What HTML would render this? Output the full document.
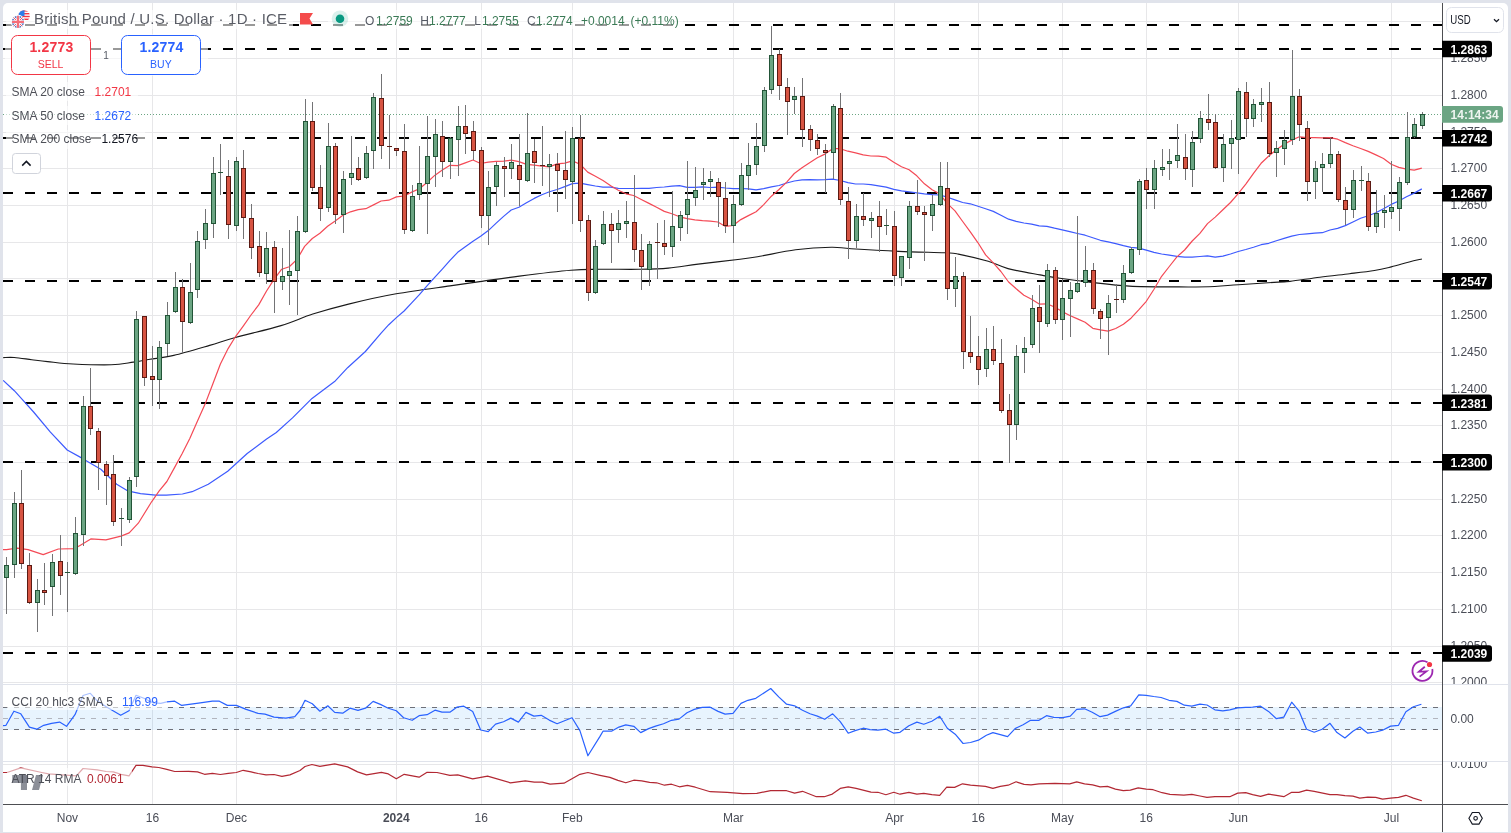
<!DOCTYPE html>
<html><head><meta charset="utf-8"><style>
html,body{margin:0;padding:0}
body{width:1511px;height:833px;overflow:hidden;background:#e0e3eb;position:relative;font-family:"Liberation Sans",sans-serif}
svg{position:absolute;left:0;top:0;font-family:"Liberation Sans",sans-serif;will-change:transform}
</style></head><body>
<svg width="1511" height="833" viewBox="0 0 1511 833">
<defs><clipPath id="main"><rect x="3" y="3" width="1439" height="681"/></clipPath>
<clipPath id="cci"><rect x="3" y="685" width="1439" height="76"/></clipPath>
<clipPath id="atr"><rect x="3" y="762" width="1439" height="42"/></clipPath>
<clipPath id="pax"><rect x="1443" y="3" width="65" height="681"/></clipPath>
<clipPath id="paxcci"><rect x="1443" y="685" width="65" height="76"/></clipPath>
<clipPath id="paxatr"><rect x="1443" y="762" width="65" height="42"/></clipPath>
</defs>
<path d="M8 3 h1495 a5 5 0 0 1 5 5 v824 h-1505 v-824 a5 5 0 0 1 5 -5 z" fill="#ffffff"/>
<rect x="67" y="3" width="1" height="801" fill="#e7e7e9"/>
<rect x="152" y="3" width="1" height="801" fill="#e7e7e9"/>
<rect x="236" y="3" width="1" height="801" fill="#e7e7e9"/>
<rect x="396" y="3" width="1" height="801" fill="#e7e7e9"/>
<rect x="481" y="3" width="1" height="801" fill="#e7e7e9"/>
<rect x="572" y="3" width="1" height="801" fill="#e7e7e9"/>
<rect x="733" y="3" width="1" height="801" fill="#e7e7e9"/>
<rect x="894" y="3" width="1" height="801" fill="#e7e7e9"/>
<rect x="978" y="3" width="1" height="801" fill="#e7e7e9"/>
<rect x="1062" y="3" width="1" height="801" fill="#e7e7e9"/>
<rect x="1146" y="3" width="1" height="801" fill="#e7e7e9"/>
<rect x="1238" y="3" width="1" height="801" fill="#e7e7e9"/>
<rect x="1391" y="3" width="1" height="801" fill="#e7e7e9"/>
<rect x="3" y="682" width="1439" height="1" fill="#e7e7e9"/>
<rect x="3" y="646" width="1439" height="1" fill="#e7e7e9"/>
<rect x="3" y="609" width="1439" height="1" fill="#e7e7e9"/>
<rect x="3" y="572" width="1439" height="1" fill="#e7e7e9"/>
<rect x="3" y="535" width="1439" height="1" fill="#e7e7e9"/>
<rect x="3" y="499" width="1439" height="1" fill="#e7e7e9"/>
<rect x="3" y="462" width="1439" height="1" fill="#e7e7e9"/>
<rect x="3" y="425" width="1439" height="1" fill="#e7e7e9"/>
<rect x="3" y="389" width="1439" height="1" fill="#e7e7e9"/>
<rect x="3" y="352" width="1439" height="1" fill="#e7e7e9"/>
<rect x="3" y="315" width="1439" height="1" fill="#e7e7e9"/>
<rect x="3" y="278" width="1439" height="1" fill="#e7e7e9"/>
<rect x="3" y="242" width="1439" height="1" fill="#e7e7e9"/>
<rect x="3" y="205" width="1439" height="1" fill="#e7e7e9"/>
<rect x="3" y="168" width="1439" height="1" fill="#e7e7e9"/>
<rect x="3" y="132" width="1439" height="1" fill="#e7e7e9"/>
<rect x="3" y="95" width="1439" height="1" fill="#e7e7e9"/>
<rect x="3" y="58" width="1439" height="1" fill="#e7e7e9"/>
<rect x="3" y="21" width="1439" height="1" fill="#e7e7e9"/>
<rect x="3" y="764" width="1439" height="1" fill="#e7e7e9"/>
<rect x="3" y="684" width="1505" height="1" fill="#e0e3eb"/>
<rect x="3" y="761" width="1505" height="1" fill="#e0e3eb"/>
<rect x="3" y="707" width="1439" height="23" fill="#2196f3" fill-opacity="0.1"/>
<line x1="3" y1="707.5" x2="1442" y2="707.5" stroke="#6e7079" stroke-width="1" stroke-dasharray="5 6"/>
<line x1="3" y1="718.5" x2="1442" y2="718.5" stroke="#b2b5be" stroke-width="1" stroke-dasharray="5 6"/>
<line x1="3" y1="729.5" x2="1442" y2="729.5" stroke="#6e7079" stroke-width="1" stroke-dasharray="5 6"/>
<g clip-path="url(#main)">
<line x1="3" y1="25" x2="1442" y2="25" stroke="#000" stroke-width="2" stroke-dasharray="10 12"/>
<line x1="3" y1="49" x2="1442" y2="49" stroke="#000" stroke-width="2" stroke-dasharray="10 12"/>
<line x1="3" y1="138" x2="1442" y2="138" stroke="#000" stroke-width="2" stroke-dasharray="10 12"/>
<line x1="3" y1="193" x2="1442" y2="193" stroke="#000" stroke-width="2" stroke-dasharray="10 12"/>
<line x1="3" y1="281" x2="1442" y2="281" stroke="#000" stroke-width="2" stroke-dasharray="10 12"/>
<line x1="3" y1="403" x2="1442" y2="403" stroke="#000" stroke-width="2" stroke-dasharray="10 12"/>
<line x1="3" y1="462" x2="1442" y2="462" stroke="#000" stroke-width="2" stroke-dasharray="10 12"/>
<line x1="3" y1="653" x2="1442" y2="653" stroke="#000" stroke-width="2" stroke-dasharray="10 12"/>
<path d="M3.2,357.6 C5.1,357.6 9.5,357.1 14.3,357.5 C19.1,357.9 26.2,359.0 31.8,359.7 C37.4,360.4 40.7,360.9 47.6,361.6 C54.5,362.3 62.5,363.5 73.1,364.0 C83.7,364.5 101.2,365.1 111.2,364.8 C121.2,364.5 126.9,363.0 133.4,362.1 C139.9,361.2 143.3,360.4 150.0,359.3 C156.7,358.2 163.9,357.7 173.8,355.4 C183.7,353.1 199.3,348.4 209.6,345.4 C219.9,342.4 223.5,340.8 235.4,337.5 C247.3,334.2 268.1,329.5 281.0,325.6 C293.9,321.7 301.6,317.7 312.8,314.1 C324.1,310.5 334.6,307.5 348.5,304.1 C362.4,300.7 379.3,296.8 396.2,293.8 C413.1,290.8 436.1,287.9 450.0,285.9 C463.9,283.9 468.1,283.2 479.7,281.6 C491.3,280.0 504.2,278.0 519.4,276.1 C534.6,274.2 557.8,271.4 571.0,270.3 C584.2,269.2 587.5,269.5 598.8,269.3 C610.0,269.1 626.9,269.5 638.5,269.3 C650.1,269.1 658.4,269.0 668.3,268.1 C678.2,267.2 686.1,265.6 698.1,264.1 C710.1,262.6 729.7,260.6 740.0,259.3 C750.3,258.0 750.6,257.9 759.9,256.3 C769.2,254.7 783.7,251.3 795.6,249.8 C807.5,248.3 822.0,247.4 831.3,247.2 C840.6,247.0 840.0,248.1 851.2,248.8 C862.5,249.5 883.2,250.7 898.8,251.4 C914.3,252.1 934.6,252.4 944.5,252.8 C954.4,253.2 951.1,252.7 958.4,254.1 C965.7,255.5 979.9,258.9 988.2,261.3 C996.5,263.7 999.4,266.3 1008.0,268.6 C1016.6,270.9 1031.3,273.3 1040.0,274.9 C1048.7,276.5 1051.6,277.1 1059.9,278.3 C1068.2,279.5 1078.0,280.8 1089.6,282.1 C1101.2,283.4 1114.4,285.3 1129.3,286.1 C1144.2,286.9 1164.8,286.8 1179.0,286.9 C1193.2,287.0 1204.8,286.9 1214.7,286.5 C1224.6,286.1 1227.9,285.4 1238.5,284.7 C1249.1,284.0 1269.6,282.7 1278.2,282.1 C1286.8,281.6 1283.1,282.2 1290.0,281.4 C1296.9,280.6 1309.9,278.5 1319.8,277.2 C1329.7,275.9 1340.5,274.8 1349.6,273.7 C1358.7,272.6 1367.5,271.6 1374.4,270.5 C1381.4,269.4 1385.5,268.3 1391.3,266.9 C1397.1,265.5 1404.1,263.3 1409.2,262.0 C1414.3,260.7 1419.8,259.5 1421.9,259.0" fill="none" stroke="#1a1a1a" stroke-width="1.1"/>
<polyline points="3.2,380.4 14.3,390.7 22.2,399.4 33.6,412.0 50.4,432.2 67.2,450.0 80.6,457.4 100.8,469.2 116.7,484.3 127.5,490.8 140.5,493.6 155.6,495.1 166.4,495.2 182.4,494.0 192.1,491.7 208.3,484.3 227.7,471.3 247.2,453.5 266.6,438.9 276.3,432.5 292.5,417.9 312.0,398.4 334.6,381.6 347.6,367.7 365.4,351.5 381.1,333.1 388.8,324.7 396.4,317.6 404.1,311.0 411.7,302.8 419.4,294.7 427.0,285.9 434.7,277.4 442.3,269.1 450.0,260.4 457.7,252.3 465.3,246.8 473.0,241.3 480.6,236.3 488.3,230.6 495.9,223.4 503.6,216.4 511.2,210.0 518.9,207.3 526.5,202.8 534.2,198.4 541.8,194.8 549.5,191.8 557.1,189.5 564.8,186.6 572.4,183.6 580.1,183.2 587.7,184.6 595.4,186.0 603.0,187.1 610.7,187.2 618.3,188.4 626.0,188.5 633.6,188.5 641.3,188.4 649.0,188.3 656.6,187.5 664.3,187.0 671.9,186.1 679.6,185.7 687.2,187.3 694.9,187.3 702.5,186.8 710.2,187.5 717.8,187.1 725.5,188.0 733.1,188.6 740.8,188.5 748.4,188.8 756.1,189.8 763.7,188.6 771.4,186.8 779.0,185.5 786.7,183.0 794.3,181.0 802.0,179.9 809.6,179.6 817.3,179.9 824.9,179.7 832.6,179.1 840.3,180.5 847.9,182.7 855.6,184.0 863.2,184.0 870.9,184.7 878.5,185.9 886.2,187.1 893.8,189.3 901.5,190.9 909.1,191.9 916.8,192.9 924.4,193.9 932.1,194.7 939.7,195.0 947.4,197.2 955.0,199.9 962.7,202.5 970.3,203.8 978.0,206.3 985.6,208.8 993.3,211.4 1000.9,215.2 1008.6,219.2 1016.2,221.4 1023.9,223.0 1031.6,224.2 1039.2,225.8 1046.9,226.3 1054.5,228.2 1062.2,229.8 1069.8,231.6 1077.5,233.5 1085.1,235.2 1092.8,237.8 1100.4,240.3 1108.1,241.8 1115.7,243.7 1123.4,245.7 1131.0,247.4 1138.7,248.1 1146.3,250.1 1154.0,252.3 1161.6,254.0 1169.3,255.1 1176.9,256.3 1184.6,257.1 1192.2,257.2 1199.9,256.5 1207.5,255.9 1215.2,257.2 1222.9,256.1 1230.5,254.0 1238.2,251.5 1245.8,249.5 1253.5,247.2 1261.1,244.7 1268.8,243.3 1276.4,240.7 1284.1,238.4 1291.7,236.2 1299.4,234.5 1307.0,233.8 1314.7,233.1 1322.3,232.7 1330.0,230.0 1337.6,228.4 1345.3,225.6 1352.9,222.0 1360.6,218.2 1368.2,215.8 1375.9,212.8 1383.5,208.8 1391.2,204.4 1398.8,201.0 1406.5,196.8 1414.2,193.1 1421.8,188.9" fill="none" stroke="#3d5afe" stroke-width="1.2" stroke-linejoin="round" />
<polyline points="3.0,549.6 6.5,549.6 17.3,548.1 28.1,549.6 43.2,554.6 58.3,549.0 74.5,548.6 80.0,545.4 90.8,538.9 105.9,539.8 121.0,536.1 129.2,532.9 138.3,523.2 151.6,501.8 159.2,490.9 166.9,481.5 174.5,467.6 182.2,453.5 189.8,438.6 197.5,421.0 205.1,404.1 212.8,384.0 220.4,364.0 228.1,348.6 235.7,336.3 243.4,325.8 251.0,315.0 258.7,304.9 266.4,291.2 274.0,279.4 281.7,269.2 289.3,266.7 297.0,259.4 304.6,246.4 312.3,238.5 319.9,233.2 327.6,226.2 335.2,220.9 342.9,215.2 350.5,211.8 358.2,209.7 365.8,208.7 373.5,204.9 381.1,201.0 388.8,200.2 396.4,196.9 404.1,196.0 411.7,192.1 419.4,188.8 427.0,182.5 434.7,175.4 442.3,170.0 450.0,165.3 457.7,165.6 465.3,162.9 473.0,160.0 480.6,163.5 488.3,162.1 495.9,161.4 503.6,161.1 511.2,160.2 518.9,161.6 526.5,164.4 534.2,165.2 541.8,166.2 549.5,166.9 557.1,163.9 564.8,163.1 572.4,160.9 580.1,164.2 587.7,172.1 595.4,176.3 603.0,180.6 610.7,185.8 618.3,190.3 626.0,193.8 633.6,195.5 641.3,199.5 649.0,203.4 656.6,207.2 664.3,211.4 671.9,213.7 679.6,216.8 687.2,218.6 694.9,219.8 702.5,220.7 710.2,221.1 717.8,222.0 725.5,226.4 733.1,225.5 740.8,219.6 748.4,215.6 756.1,211.7 763.7,204.6 771.4,196.2 779.0,189.5 786.7,182.1 794.3,173.5 802.0,167.8 809.6,162.7 817.3,157.8 824.9,154.1 832.6,148.7 840.3,148.7 847.9,151.2 855.6,152.9 863.2,154.9 870.9,156.0 878.5,156.1 886.2,157.2 893.8,162.2 901.5,166.8 909.1,169.7 916.8,175.8 924.4,183.8 932.1,189.7 939.7,193.9 947.4,203.6 955.0,210.9 962.7,221.5 970.3,231.9 978.0,242.8 985.6,254.9 993.3,262.9 1000.9,271.5 1008.6,282.0 1016.2,288.8 1023.9,295.2 1031.6,299.3 1039.2,304.1 1046.9,303.8 1054.5,307.0 1062.2,311.6 1069.8,315.5 1077.5,318.9 1085.1,322.2 1092.8,328.3 1100.4,329.8 1108.1,331.1 1115.7,328.5 1123.4,324.3 1131.0,318.2 1138.7,309.9 1146.3,301.3 1154.0,289.2 1161.6,276.3 1169.3,266.5 1176.9,256.9 1184.6,250.0 1192.2,241.0 1199.9,233.4 1207.5,223.6 1215.2,217.1 1222.9,209.8 1230.5,202.5 1238.2,193.6 1245.8,184.1 1253.5,173.3 1261.1,163.3 1268.8,156.0 1276.4,149.8 1284.1,144.3 1291.7,140.1 1299.4,136.8 1307.0,137.6 1314.7,137.6 1322.3,137.8 1330.0,137.7 1337.6,139.2 1345.3,142.6 1352.9,145.7 1360.6,148.5 1368.2,151.4 1375.9,154.9 1383.5,158.5 1391.2,164.3 1398.8,167.4 1406.5,169.1 1414.2,170.2 1421.8,168.2" fill="none" stroke="#f44a56" stroke-width="1.2" stroke-linejoin="round" />
<line x1="3" y1="114.5" x2="1442" y2="114.5" stroke="#6ba583" stroke-width="1" stroke-dasharray="1 2"/>
<rect x="6" y="557" width="1" height="57" fill="#737375"/>
<rect x="4.5" y="565.5" width="4" height="12" fill="#6ba583" stroke="#225437" stroke-width="1"/>
<rect x="14" y="492" width="1" height="86" fill="#737375"/>
<rect x="12.5" y="503.5" width="4" height="61" fill="#6ba583" stroke="#225437" stroke-width="1"/>
<rect x="21" y="470" width="1" height="99" fill="#737375"/>
<rect x="19.5" y="503.5" width="4" height="60" fill="#d75442" stroke="#5b1a13" stroke-width="1"/>
<rect x="29" y="553" width="1" height="51" fill="#737375"/>
<rect x="27.5" y="565.5" width="4" height="37" fill="#d75442" stroke="#5b1a13" stroke-width="1"/>
<rect x="37" y="579" width="1" height="53" fill="#737375"/>
<rect x="35.5" y="590.5" width="4" height="12" fill="#6ba583" stroke="#225437" stroke-width="1"/>
<rect x="44" y="563" width="1" height="42" fill="#737375"/>
<rect x="42.5" y="590.5" width="4" height="2" fill="#d75442" stroke="#5b1a13" stroke-width="1"/>
<rect x="52" y="554" width="1" height="62" fill="#737375"/>
<rect x="50.5" y="562.5" width="4" height="24" fill="#6ba583" stroke="#225437" stroke-width="1"/>
<rect x="60" y="535" width="1" height="60" fill="#737375"/>
<rect x="58.5" y="561.5" width="4" height="14" fill="#d75442" stroke="#5b1a13" stroke-width="1"/>
<rect x="67" y="562" width="1" height="50" fill="#737375"/>
<rect x="65" y="572" width="5" height="1" fill="#225437"/>
<rect x="75" y="517" width="1" height="58" fill="#737375"/>
<rect x="73.5" y="533.5" width="4" height="40" fill="#6ba583" stroke="#225437" stroke-width="1"/>
<rect x="83" y="396" width="1" height="150" fill="#737375"/>
<rect x="81.5" y="406.5" width="4" height="128" fill="#6ba583" stroke="#225437" stroke-width="1"/>
<rect x="90" y="368" width="1" height="67" fill="#737375"/>
<rect x="88.5" y="406.5" width="4" height="22" fill="#d75442" stroke="#5b1a13" stroke-width="1"/>
<rect x="98" y="428" width="1" height="62" fill="#737375"/>
<rect x="96.5" y="431.5" width="4" height="31" fill="#d75442" stroke="#5b1a13" stroke-width="1"/>
<rect x="106" y="461" width="1" height="44" fill="#737375"/>
<rect x="104.5" y="464.5" width="4" height="11" fill="#d75442" stroke="#5b1a13" stroke-width="1"/>
<rect x="113" y="455" width="1" height="71" fill="#737375"/>
<rect x="111.5" y="474.5" width="4" height="47" fill="#d75442" stroke="#5b1a13" stroke-width="1"/>
<rect x="121" y="508" width="1" height="38" fill="#737375"/>
<rect x="119" y="518" width="5" height="1" fill="#225437"/>
<rect x="129" y="477" width="1" height="46" fill="#737375"/>
<rect x="127.5" y="480.5" width="4" height="39" fill="#6ba583" stroke="#225437" stroke-width="1"/>
<rect x="136" y="311" width="1" height="176" fill="#737375"/>
<rect x="134.5" y="319.5" width="4" height="157" fill="#6ba583" stroke="#225437" stroke-width="1"/>
<rect x="144" y="316" width="1" height="70" fill="#737375"/>
<rect x="142.5" y="316.5" width="4" height="61" fill="#d75442" stroke="#5b1a13" stroke-width="1"/>
<rect x="152" y="346" width="1" height="60" fill="#737375"/>
<rect x="150.5" y="376.5" width="4" height="3" fill="#d75442" stroke="#5b1a13" stroke-width="1"/>
<rect x="159" y="341" width="1" height="68" fill="#737375"/>
<rect x="157.5" y="347.5" width="4" height="32" fill="#6ba583" stroke="#225437" stroke-width="1"/>
<rect x="167" y="302" width="1" height="54" fill="#737375"/>
<rect x="165.5" y="315.5" width="4" height="28" fill="#6ba583" stroke="#225437" stroke-width="1"/>
<rect x="175" y="272" width="1" height="41" fill="#737375"/>
<rect x="173.5" y="287.5" width="4" height="24" fill="#6ba583" stroke="#225437" stroke-width="1"/>
<rect x="182" y="279" width="1" height="74" fill="#737375"/>
<rect x="180.5" y="287.5" width="4" height="34" fill="#d75442" stroke="#5b1a13" stroke-width="1"/>
<rect x="190" y="263" width="1" height="61" fill="#737375"/>
<rect x="188.5" y="292.5" width="4" height="30" fill="#6ba583" stroke="#225437" stroke-width="1"/>
<rect x="197" y="231" width="1" height="67" fill="#737375"/>
<rect x="195.5" y="241.5" width="4" height="48" fill="#6ba583" stroke="#225437" stroke-width="1"/>
<rect x="205" y="209" width="1" height="40" fill="#737375"/>
<rect x="203.5" y="223.5" width="4" height="16" fill="#6ba583" stroke="#225437" stroke-width="1"/>
<rect x="213" y="157" width="1" height="81" fill="#737375"/>
<rect x="211.5" y="173.5" width="4" height="50" fill="#6ba583" stroke="#225437" stroke-width="1"/>
<rect x="220" y="144" width="1" height="51" fill="#737375"/>
<rect x="218" y="172" width="5" height="1" fill="#225437"/>
<rect x="228" y="160" width="1" height="79" fill="#737375"/>
<rect x="226.5" y="176.5" width="4" height="48" fill="#d75442" stroke="#5b1a13" stroke-width="1"/>
<rect x="236" y="157" width="1" height="74" fill="#737375"/>
<rect x="234.5" y="161.5" width="4" height="64" fill="#6ba583" stroke="#225437" stroke-width="1"/>
<rect x="243" y="150" width="1" height="89" fill="#737375"/>
<rect x="241.5" y="168.5" width="4" height="49" fill="#d75442" stroke="#5b1a13" stroke-width="1"/>
<rect x="251" y="204" width="1" height="55" fill="#737375"/>
<rect x="249.5" y="218.5" width="4" height="29" fill="#d75442" stroke="#5b1a13" stroke-width="1"/>
<rect x="259" y="231" width="1" height="46" fill="#737375"/>
<rect x="257.5" y="246.5" width="4" height="26" fill="#d75442" stroke="#5b1a13" stroke-width="1"/>
<rect x="266" y="232" width="1" height="52" fill="#737375"/>
<rect x="264.5" y="248.5" width="4" height="25" fill="#6ba583" stroke="#225437" stroke-width="1"/>
<rect x="274" y="241" width="1" height="72" fill="#737375"/>
<rect x="272.5" y="247.5" width="4" height="34" fill="#d75442" stroke="#5b1a13" stroke-width="1"/>
<rect x="282" y="248" width="1" height="42" fill="#737375"/>
<rect x="280.5" y="276.5" width="4" height="5" fill="#6ba583" stroke="#225437" stroke-width="1"/>
<rect x="289" y="230" width="1" height="75" fill="#737375"/>
<rect x="287.5" y="271.5" width="4" height="4" fill="#6ba583" stroke="#225437" stroke-width="1"/>
<rect x="297" y="216" width="1" height="99" fill="#737375"/>
<rect x="295.5" y="231.5" width="4" height="39" fill="#6ba583" stroke="#225437" stroke-width="1"/>
<rect x="305" y="99" width="1" height="134" fill="#737375"/>
<rect x="303.5" y="121.5" width="4" height="110" fill="#6ba583" stroke="#225437" stroke-width="1"/>
<rect x="312" y="102" width="1" height="89" fill="#737375"/>
<rect x="310.5" y="121.5" width="4" height="66" fill="#d75442" stroke="#5b1a13" stroke-width="1"/>
<rect x="320" y="165" width="1" height="56" fill="#737375"/>
<rect x="318.5" y="187.5" width="4" height="21" fill="#d75442" stroke="#5b1a13" stroke-width="1"/>
<rect x="328" y="123" width="1" height="89" fill="#737375"/>
<rect x="326.5" y="146.5" width="4" height="61" fill="#6ba583" stroke="#225437" stroke-width="1"/>
<rect x="335" y="143" width="1" height="81" fill="#737375"/>
<rect x="333.5" y="146.5" width="4" height="68" fill="#d75442" stroke="#5b1a13" stroke-width="1"/>
<rect x="343" y="171" width="1" height="62" fill="#737375"/>
<rect x="341.5" y="179.5" width="4" height="35" fill="#6ba583" stroke="#225437" stroke-width="1"/>
<rect x="351" y="136" width="1" height="49" fill="#737375"/>
<rect x="349.5" y="173.5" width="4" height="4" fill="#6ba583" stroke="#225437" stroke-width="1"/>
<rect x="358" y="157" width="1" height="24" fill="#737375"/>
<rect x="356.5" y="168.5" width="4" height="11" fill="#d75442" stroke="#5b1a13" stroke-width="1"/>
<rect x="366" y="146" width="1" height="33" fill="#737375"/>
<rect x="364.5" y="153.5" width="4" height="24" fill="#6ba583" stroke="#225437" stroke-width="1"/>
<rect x="373" y="93" width="1" height="76" fill="#737375"/>
<rect x="371.5" y="97.5" width="4" height="53" fill="#6ba583" stroke="#225437" stroke-width="1"/>
<rect x="381" y="74" width="1" height="85" fill="#737375"/>
<rect x="379.5" y="98.5" width="4" height="47" fill="#d75442" stroke="#5b1a13" stroke-width="1"/>
<rect x="389" y="115" width="1" height="54" fill="#737375"/>
<rect x="387" y="146" width="5" height="1" fill="#5b1a13"/>
<rect x="396" y="148" width="1" height="8" fill="#737375"/>
<rect x="394.5" y="148.5" width="4" height="2" fill="#d75442" stroke="#5b1a13" stroke-width="1"/>
<rect x="404" y="124" width="1" height="110" fill="#737375"/>
<rect x="402.5" y="151.5" width="4" height="78" fill="#d75442" stroke="#5b1a13" stroke-width="1"/>
<rect x="412" y="185" width="1" height="47" fill="#737375"/>
<rect x="410.5" y="196.5" width="4" height="34" fill="#6ba583" stroke="#225437" stroke-width="1"/>
<rect x="419" y="146" width="1" height="54" fill="#737375"/>
<rect x="417.5" y="183.5" width="4" height="11" fill="#6ba583" stroke="#225437" stroke-width="1"/>
<rect x="427" y="116" width="1" height="118" fill="#737375"/>
<rect x="425.5" y="156.5" width="4" height="27" fill="#6ba583" stroke="#225437" stroke-width="1"/>
<rect x="435" y="119" width="1" height="68" fill="#737375"/>
<rect x="433.5" y="134.5" width="4" height="22" fill="#6ba583" stroke="#225437" stroke-width="1"/>
<rect x="442" y="121" width="1" height="56" fill="#737375"/>
<rect x="440.5" y="136.5" width="4" height="25" fill="#d75442" stroke="#5b1a13" stroke-width="1"/>
<rect x="450" y="137" width="1" height="42" fill="#737375"/>
<rect x="448.5" y="138.5" width="4" height="23" fill="#6ba583" stroke="#225437" stroke-width="1"/>
<rect x="458" y="106" width="1" height="70" fill="#737375"/>
<rect x="456.5" y="126.5" width="4" height="13" fill="#6ba583" stroke="#225437" stroke-width="1"/>
<rect x="465" y="105" width="1" height="49" fill="#737375"/>
<rect x="463.5" y="126.5" width="4" height="7" fill="#d75442" stroke="#5b1a13" stroke-width="1"/>
<rect x="473" y="121" width="1" height="39" fill="#737375"/>
<rect x="471.5" y="131.5" width="4" height="19" fill="#d75442" stroke="#5b1a13" stroke-width="1"/>
<rect x="481" y="147" width="1" height="81" fill="#737375"/>
<rect x="479.5" y="150.5" width="4" height="65" fill="#d75442" stroke="#5b1a13" stroke-width="1"/>
<rect x="488" y="171" width="1" height="74" fill="#737375"/>
<rect x="486.5" y="187.5" width="4" height="28" fill="#6ba583" stroke="#225437" stroke-width="1"/>
<rect x="496" y="162" width="1" height="44" fill="#737375"/>
<rect x="494.5" y="165.5" width="4" height="21" fill="#6ba583" stroke="#225437" stroke-width="1"/>
<rect x="504" y="157" width="1" height="40" fill="#737375"/>
<rect x="502.5" y="166.5" width="4" height="2" fill="#d75442" stroke="#5b1a13" stroke-width="1"/>
<rect x="511" y="144" width="1" height="35" fill="#737375"/>
<rect x="509.5" y="162.5" width="4" height="6" fill="#6ba583" stroke="#225437" stroke-width="1"/>
<rect x="519" y="134" width="1" height="72" fill="#737375"/>
<rect x="517.5" y="165.5" width="4" height="14" fill="#d75442" stroke="#5b1a13" stroke-width="1"/>
<rect x="527" y="113" width="1" height="69" fill="#737375"/>
<rect x="525.5" y="153.5" width="4" height="27" fill="#6ba583" stroke="#225437" stroke-width="1"/>
<rect x="534" y="139" width="1" height="44" fill="#737375"/>
<rect x="532.5" y="151.5" width="4" height="11" fill="#d75442" stroke="#5b1a13" stroke-width="1"/>
<rect x="542" y="126" width="1" height="60" fill="#737375"/>
<rect x="540" y="165" width="5" height="1" fill="#5b1a13"/>
<rect x="549" y="154" width="1" height="43" fill="#737375"/>
<rect x="547.5" y="164.5" width="4" height="2" fill="#6ba583" stroke="#225437" stroke-width="1"/>
<rect x="557" y="153" width="1" height="59" fill="#737375"/>
<rect x="555.5" y="164.5" width="4" height="6" fill="#d75442" stroke="#5b1a13" stroke-width="1"/>
<rect x="565" y="131" width="1" height="68" fill="#737375"/>
<rect x="563.5" y="170.5" width="4" height="9" fill="#d75442" stroke="#5b1a13" stroke-width="1"/>
<rect x="572" y="127" width="1" height="97" fill="#737375"/>
<rect x="570.5" y="138.5" width="4" height="43" fill="#6ba583" stroke="#225437" stroke-width="1"/>
<rect x="580" y="115" width="1" height="117" fill="#737375"/>
<rect x="578.5" y="138.5" width="4" height="82" fill="#d75442" stroke="#5b1a13" stroke-width="1"/>
<rect x="588" y="215" width="1" height="86" fill="#737375"/>
<rect x="586.5" y="220.5" width="4" height="72" fill="#d75442" stroke="#5b1a13" stroke-width="1"/>
<rect x="595" y="240" width="1" height="54" fill="#737375"/>
<rect x="593.5" y="246.5" width="4" height="46" fill="#6ba583" stroke="#225437" stroke-width="1"/>
<rect x="603" y="211" width="1" height="34" fill="#737375"/>
<rect x="601.5" y="224.5" width="4" height="19" fill="#6ba583" stroke="#225437" stroke-width="1"/>
<rect x="611" y="213" width="1" height="50" fill="#737375"/>
<rect x="609.5" y="224.5" width="4" height="6" fill="#d75442" stroke="#5b1a13" stroke-width="1"/>
<rect x="618" y="210" width="1" height="33" fill="#737375"/>
<rect x="616.5" y="223.5" width="4" height="6" fill="#6ba583" stroke="#225437" stroke-width="1"/>
<rect x="626" y="201" width="1" height="37" fill="#737375"/>
<rect x="624.5" y="221.5" width="4" height="2" fill="#6ba583" stroke="#225437" stroke-width="1"/>
<rect x="634" y="175" width="1" height="87" fill="#737375"/>
<rect x="632.5" y="222.5" width="4" height="27" fill="#d75442" stroke="#5b1a13" stroke-width="1"/>
<rect x="641" y="234" width="1" height="56" fill="#737375"/>
<rect x="639.5" y="250.5" width="4" height="16" fill="#d75442" stroke="#5b1a13" stroke-width="1"/>
<rect x="649" y="241" width="1" height="45" fill="#737375"/>
<rect x="647.5" y="244.5" width="4" height="25" fill="#6ba583" stroke="#225437" stroke-width="1"/>
<rect x="657" y="223" width="1" height="56" fill="#737375"/>
<rect x="655" y="242" width="5" height="1" fill="#5b1a13"/>
<rect x="664" y="220" width="1" height="35" fill="#737375"/>
<rect x="662.5" y="243.5" width="4" height="3" fill="#d75442" stroke="#5b1a13" stroke-width="1"/>
<rect x="672" y="191" width="1" height="66" fill="#737375"/>
<rect x="670.5" y="226.5" width="4" height="20" fill="#6ba583" stroke="#225437" stroke-width="1"/>
<rect x="680" y="211" width="1" height="30" fill="#737375"/>
<rect x="678.5" y="215.5" width="4" height="12" fill="#6ba583" stroke="#225437" stroke-width="1"/>
<rect x="687" y="161" width="1" height="73" fill="#737375"/>
<rect x="685.5" y="199.5" width="4" height="15" fill="#6ba583" stroke="#225437" stroke-width="1"/>
<rect x="695" y="167" width="1" height="39" fill="#737375"/>
<rect x="693.5" y="190.5" width="4" height="7" fill="#6ba583" stroke="#225437" stroke-width="1"/>
<rect x="703" y="168" width="1" height="32" fill="#737375"/>
<rect x="701.5" y="182.5" width="4" height="2" fill="#6ba583" stroke="#225437" stroke-width="1"/>
<rect x="710" y="171" width="1" height="26" fill="#737375"/>
<rect x="708.5" y="179.5" width="4" height="2" fill="#6ba583" stroke="#225437" stroke-width="1"/>
<rect x="718" y="178" width="1" height="49" fill="#737375"/>
<rect x="716.5" y="182.5" width="4" height="14" fill="#d75442" stroke="#5b1a13" stroke-width="1"/>
<rect x="725" y="182" width="1" height="51" fill="#737375"/>
<rect x="723.5" y="198.5" width="4" height="27" fill="#d75442" stroke="#5b1a13" stroke-width="1"/>
<rect x="733" y="195" width="1" height="48" fill="#737375"/>
<rect x="731.5" y="204.5" width="4" height="21" fill="#6ba583" stroke="#225437" stroke-width="1"/>
<rect x="741" y="163" width="1" height="43" fill="#737375"/>
<rect x="739.5" y="175.5" width="4" height="29" fill="#6ba583" stroke="#225437" stroke-width="1"/>
<rect x="748" y="143" width="1" height="47" fill="#737375"/>
<rect x="746.5" y="165.5" width="4" height="10" fill="#6ba583" stroke="#225437" stroke-width="1"/>
<rect x="756" y="123" width="1" height="52" fill="#737375"/>
<rect x="754.5" y="146.5" width="4" height="18" fill="#6ba583" stroke="#225437" stroke-width="1"/>
<rect x="764" y="87" width="1" height="65" fill="#737375"/>
<rect x="762.5" y="90.5" width="4" height="55" fill="#6ba583" stroke="#225437" stroke-width="1"/>
<rect x="771" y="26" width="1" height="68" fill="#737375"/>
<rect x="769.5" y="55.5" width="4" height="34" fill="#6ba583" stroke="#225437" stroke-width="1"/>
<rect x="779" y="49" width="1" height="51" fill="#737375"/>
<rect x="777.5" y="54.5" width="4" height="31" fill="#d75442" stroke="#5b1a13" stroke-width="1"/>
<rect x="787" y="78" width="1" height="57" fill="#737375"/>
<rect x="785.5" y="87.5" width="4" height="14" fill="#d75442" stroke="#5b1a13" stroke-width="1"/>
<rect x="794" y="87" width="1" height="27" fill="#737375"/>
<rect x="792.5" y="96.5" width="4" height="3" fill="#6ba583" stroke="#225437" stroke-width="1"/>
<rect x="802" y="78" width="1" height="69" fill="#737375"/>
<rect x="800.5" y="96.5" width="4" height="33" fill="#d75442" stroke="#5b1a13" stroke-width="1"/>
<rect x="810" y="125" width="1" height="26" fill="#737375"/>
<rect x="808.5" y="129.5" width="4" height="10" fill="#d75442" stroke="#5b1a13" stroke-width="1"/>
<rect x="817" y="134" width="1" height="21" fill="#737375"/>
<rect x="815.5" y="140.5" width="4" height="8" fill="#d75442" stroke="#5b1a13" stroke-width="1"/>
<rect x="825" y="144" width="1" height="49" fill="#737375"/>
<rect x="823.5" y="150.5" width="4" height="2" fill="#d75442" stroke="#5b1a13" stroke-width="1"/>
<rect x="833" y="104" width="1" height="75" fill="#737375"/>
<rect x="831.5" y="106.5" width="4" height="46" fill="#6ba583" stroke="#225437" stroke-width="1"/>
<rect x="840" y="93" width="1" height="112" fill="#737375"/>
<rect x="838.5" y="108.5" width="4" height="91" fill="#d75442" stroke="#5b1a13" stroke-width="1"/>
<rect x="848" y="187" width="1" height="72" fill="#737375"/>
<rect x="846.5" y="201.5" width="4" height="39" fill="#d75442" stroke="#5b1a13" stroke-width="1"/>
<rect x="856" y="204" width="1" height="44" fill="#737375"/>
<rect x="854.5" y="216.5" width="4" height="24" fill="#6ba583" stroke="#225437" stroke-width="1"/>
<rect x="863" y="193" width="1" height="33" fill="#737375"/>
<rect x="861.5" y="216.5" width="4" height="3" fill="#d75442" stroke="#5b1a13" stroke-width="1"/>
<rect x="871" y="212" width="1" height="26" fill="#737375"/>
<rect x="869.5" y="218.5" width="4" height="2" fill="#6ba583" stroke="#225437" stroke-width="1"/>
<rect x="879" y="201" width="1" height="51" fill="#737375"/>
<rect x="877.5" y="216.5" width="4" height="10" fill="#d75442" stroke="#5b1a13" stroke-width="1"/>
<rect x="886" y="209" width="1" height="26" fill="#737375"/>
<rect x="884" y="225" width="5" height="1" fill="#225437"/>
<rect x="894" y="211" width="1" height="75" fill="#737375"/>
<rect x="892.5" y="226.5" width="4" height="49" fill="#d75442" stroke="#5b1a13" stroke-width="1"/>
<rect x="901" y="256" width="1" height="30" fill="#737375"/>
<rect x="899.5" y="256.5" width="4" height="21" fill="#6ba583" stroke="#225437" stroke-width="1"/>
<rect x="909" y="201" width="1" height="68" fill="#737375"/>
<rect x="907.5" y="206.5" width="4" height="51" fill="#6ba583" stroke="#225437" stroke-width="1"/>
<rect x="917" y="180" width="1" height="35" fill="#737375"/>
<rect x="915.5" y="206.5" width="4" height="5" fill="#d75442" stroke="#5b1a13" stroke-width="1"/>
<rect x="924" y="206" width="1" height="55" fill="#737375"/>
<rect x="922.5" y="212.5" width="4" height="2" fill="#d75442" stroke="#5b1a13" stroke-width="1"/>
<rect x="932" y="195" width="1" height="36" fill="#737375"/>
<rect x="930.5" y="204.5" width="4" height="11" fill="#6ba583" stroke="#225437" stroke-width="1"/>
<rect x="940" y="162" width="1" height="44" fill="#737375"/>
<rect x="938.5" y="186.5" width="4" height="18" fill="#6ba583" stroke="#225437" stroke-width="1"/>
<rect x="947" y="162" width="1" height="138" fill="#737375"/>
<rect x="945.5" y="188.5" width="4" height="100" fill="#d75442" stroke="#5b1a13" stroke-width="1"/>
<rect x="955" y="257" width="1" height="50" fill="#737375"/>
<rect x="953.5" y="276.5" width="4" height="12" fill="#6ba583" stroke="#225437" stroke-width="1"/>
<rect x="963" y="272" width="1" height="97" fill="#737375"/>
<rect x="961.5" y="276.5" width="4" height="75" fill="#d75442" stroke="#5b1a13" stroke-width="1"/>
<rect x="970" y="316" width="1" height="47" fill="#737375"/>
<rect x="968.5" y="352.5" width="4" height="4" fill="#d75442" stroke="#5b1a13" stroke-width="1"/>
<rect x="978" y="336" width="1" height="49" fill="#737375"/>
<rect x="976.5" y="356.5" width="4" height="13" fill="#d75442" stroke="#5b1a13" stroke-width="1"/>
<rect x="986" y="328" width="1" height="49" fill="#737375"/>
<rect x="984.5" y="349.5" width="4" height="19" fill="#6ba583" stroke="#225437" stroke-width="1"/>
<rect x="993" y="326" width="1" height="39" fill="#737375"/>
<rect x="991.5" y="349.5" width="4" height="11" fill="#d75442" stroke="#5b1a13" stroke-width="1"/>
<rect x="1001" y="339" width="1" height="74" fill="#737375"/>
<rect x="999.5" y="363.5" width="4" height="47" fill="#d75442" stroke="#5b1a13" stroke-width="1"/>
<rect x="1009" y="394" width="1" height="69" fill="#737375"/>
<rect x="1007.5" y="410.5" width="4" height="14" fill="#d75442" stroke="#5b1a13" stroke-width="1"/>
<rect x="1016" y="345" width="1" height="95" fill="#737375"/>
<rect x="1014.5" y="356.5" width="4" height="68" fill="#6ba583" stroke="#225437" stroke-width="1"/>
<rect x="1024" y="337" width="1" height="36" fill="#737375"/>
<rect x="1022.5" y="348.5" width="4" height="4" fill="#6ba583" stroke="#225437" stroke-width="1"/>
<rect x="1032" y="295" width="1" height="53" fill="#737375"/>
<rect x="1030.5" y="308.5" width="4" height="36" fill="#6ba583" stroke="#225437" stroke-width="1"/>
<rect x="1039" y="285" width="1" height="68" fill="#737375"/>
<rect x="1037.5" y="307.5" width="4" height="14" fill="#d75442" stroke="#5b1a13" stroke-width="1"/>
<rect x="1047" y="264" width="1" height="63" fill="#737375"/>
<rect x="1045.5" y="270.5" width="4" height="53" fill="#6ba583" stroke="#225437" stroke-width="1"/>
<rect x="1055" y="267" width="1" height="57" fill="#737375"/>
<rect x="1053.5" y="270.5" width="4" height="49" fill="#d75442" stroke="#5b1a13" stroke-width="1"/>
<rect x="1062" y="279" width="1" height="61" fill="#737375"/>
<rect x="1060.5" y="298.5" width="4" height="21" fill="#6ba583" stroke="#225437" stroke-width="1"/>
<rect x="1070" y="282" width="1" height="55" fill="#737375"/>
<rect x="1068.5" y="290.5" width="4" height="8" fill="#6ba583" stroke="#225437" stroke-width="1"/>
<rect x="1077" y="216" width="1" height="77" fill="#737375"/>
<rect x="1075.5" y="283.5" width="4" height="8" fill="#6ba583" stroke="#225437" stroke-width="1"/>
<rect x="1085" y="246" width="1" height="41" fill="#737375"/>
<rect x="1083.5" y="270.5" width="4" height="12" fill="#6ba583" stroke="#225437" stroke-width="1"/>
<rect x="1093" y="263" width="1" height="51" fill="#737375"/>
<rect x="1091.5" y="270.5" width="4" height="38" fill="#d75442" stroke="#5b1a13" stroke-width="1"/>
<rect x="1100" y="309" width="1" height="30" fill="#737375"/>
<rect x="1098.5" y="311.5" width="4" height="7" fill="#d75442" stroke="#5b1a13" stroke-width="1"/>
<rect x="1108" y="295" width="1" height="60" fill="#737375"/>
<rect x="1106.5" y="303.5" width="4" height="14" fill="#6ba583" stroke="#225437" stroke-width="1"/>
<rect x="1116" y="284" width="1" height="29" fill="#737375"/>
<rect x="1114" y="299" width="5" height="1" fill="#5b1a13"/>
<rect x="1123" y="265" width="1" height="38" fill="#737375"/>
<rect x="1121.5" y="273.5" width="4" height="26" fill="#6ba583" stroke="#225437" stroke-width="1"/>
<rect x="1131" y="247" width="1" height="27" fill="#737375"/>
<rect x="1129.5" y="249.5" width="4" height="23" fill="#6ba583" stroke="#225437" stroke-width="1"/>
<rect x="1139" y="179" width="1" height="76" fill="#737375"/>
<rect x="1137.5" y="181.5" width="4" height="68" fill="#6ba583" stroke="#225437" stroke-width="1"/>
<rect x="1146" y="168" width="1" height="41" fill="#737375"/>
<rect x="1144.5" y="180.5" width="4" height="9" fill="#d75442" stroke="#5b1a13" stroke-width="1"/>
<rect x="1154" y="160" width="1" height="49" fill="#737375"/>
<rect x="1152.5" y="168.5" width="4" height="21" fill="#6ba583" stroke="#225437" stroke-width="1"/>
<rect x="1162" y="149" width="1" height="27" fill="#737375"/>
<rect x="1160.5" y="167.5" width="4" height="2" fill="#6ba583" stroke="#225437" stroke-width="1"/>
<rect x="1169" y="149" width="1" height="31" fill="#737375"/>
<rect x="1167.5" y="161.5" width="4" height="2" fill="#6ba583" stroke="#225437" stroke-width="1"/>
<rect x="1177" y="124" width="1" height="44" fill="#737375"/>
<rect x="1175.5" y="155.5" width="4" height="5" fill="#6ba583" stroke="#225437" stroke-width="1"/>
<rect x="1185" y="134" width="1" height="46" fill="#737375"/>
<rect x="1183.5" y="157.5" width="4" height="11" fill="#d75442" stroke="#5b1a13" stroke-width="1"/>
<rect x="1192" y="131" width="1" height="56" fill="#737375"/>
<rect x="1190.5" y="142.5" width="4" height="27" fill="#6ba583" stroke="#225437" stroke-width="1"/>
<rect x="1200" y="111" width="1" height="32" fill="#737375"/>
<rect x="1198.5" y="118.5" width="4" height="20" fill="#6ba583" stroke="#225437" stroke-width="1"/>
<rect x="1208" y="94" width="1" height="36" fill="#737375"/>
<rect x="1206.5" y="119.5" width="4" height="3" fill="#d75442" stroke="#5b1a13" stroke-width="1"/>
<rect x="1215" y="114" width="1" height="55" fill="#737375"/>
<rect x="1213.5" y="122.5" width="4" height="45" fill="#d75442" stroke="#5b1a13" stroke-width="1"/>
<rect x="1223" y="134" width="1" height="48" fill="#737375"/>
<rect x="1221.5" y="144.5" width="4" height="23" fill="#6ba583" stroke="#225437" stroke-width="1"/>
<rect x="1231" y="120" width="1" height="49" fill="#737375"/>
<rect x="1229.5" y="138.5" width="4" height="5" fill="#6ba583" stroke="#225437" stroke-width="1"/>
<rect x="1238" y="88" width="1" height="86" fill="#737375"/>
<rect x="1236.5" y="91.5" width="4" height="48" fill="#6ba583" stroke="#225437" stroke-width="1"/>
<rect x="1246" y="82" width="1" height="55" fill="#737375"/>
<rect x="1244.5" y="92.5" width="4" height="26" fill="#d75442" stroke="#5b1a13" stroke-width="1"/>
<rect x="1253" y="99" width="1" height="28" fill="#737375"/>
<rect x="1251.5" y="104.5" width="4" height="14" fill="#6ba583" stroke="#225437" stroke-width="1"/>
<rect x="1261" y="88" width="1" height="34" fill="#737375"/>
<rect x="1259.5" y="102.5" width="4" height="2" fill="#6ba583" stroke="#225437" stroke-width="1"/>
<rect x="1269" y="82" width="1" height="75" fill="#737375"/>
<rect x="1267.5" y="102.5" width="4" height="51" fill="#d75442" stroke="#5b1a13" stroke-width="1"/>
<rect x="1276" y="141" width="1" height="36" fill="#737375"/>
<rect x="1274.5" y="148.5" width="4" height="4" fill="#6ba583" stroke="#225437" stroke-width="1"/>
<rect x="1284" y="130" width="1" height="35" fill="#737375"/>
<rect x="1282.5" y="140.5" width="4" height="8" fill="#6ba583" stroke="#225437" stroke-width="1"/>
<rect x="1292" y="50" width="1" height="95" fill="#737375"/>
<rect x="1290.5" y="96.5" width="4" height="43" fill="#6ba583" stroke="#225437" stroke-width="1"/>
<rect x="1299" y="89" width="1" height="52" fill="#737375"/>
<rect x="1297.5" y="96.5" width="4" height="28" fill="#d75442" stroke="#5b1a13" stroke-width="1"/>
<rect x="1307" y="121" width="1" height="80" fill="#737375"/>
<rect x="1305.5" y="128.5" width="4" height="53" fill="#d75442" stroke="#5b1a13" stroke-width="1"/>
<rect x="1315" y="161" width="1" height="38" fill="#737375"/>
<rect x="1313.5" y="168.5" width="4" height="13" fill="#6ba583" stroke="#225437" stroke-width="1"/>
<rect x="1322" y="153" width="1" height="39" fill="#737375"/>
<rect x="1320.5" y="164.5" width="4" height="3" fill="#6ba583" stroke="#225437" stroke-width="1"/>
<rect x="1330" y="138" width="1" height="30" fill="#737375"/>
<rect x="1328.5" y="154.5" width="4" height="9" fill="#6ba583" stroke="#225437" stroke-width="1"/>
<rect x="1338" y="151" width="1" height="51" fill="#737375"/>
<rect x="1336.5" y="154.5" width="4" height="45" fill="#d75442" stroke="#5b1a13" stroke-width="1"/>
<rect x="1345" y="187" width="1" height="38" fill="#737375"/>
<rect x="1343.5" y="200.5" width="4" height="9" fill="#d75442" stroke="#5b1a13" stroke-width="1"/>
<rect x="1353" y="170" width="1" height="48" fill="#737375"/>
<rect x="1351.5" y="180.5" width="4" height="29" fill="#6ba583" stroke="#225437" stroke-width="1"/>
<rect x="1361" y="166" width="1" height="25" fill="#737375"/>
<rect x="1359" y="180" width="5" height="1" fill="#225437"/>
<rect x="1368" y="173" width="1" height="58" fill="#737375"/>
<rect x="1366.5" y="181.5" width="4" height="45" fill="#d75442" stroke="#5b1a13" stroke-width="1"/>
<rect x="1376" y="190" width="1" height="43" fill="#737375"/>
<rect x="1374.5" y="213.5" width="4" height="13" fill="#6ba583" stroke="#225437" stroke-width="1"/>
<rect x="1384" y="195" width="1" height="33" fill="#737375"/>
<rect x="1382.5" y="210.5" width="4" height="2" fill="#6ba583" stroke="#225437" stroke-width="1"/>
<rect x="1391" y="161" width="1" height="58" fill="#737375"/>
<rect x="1389.5" y="207.5" width="4" height="4" fill="#6ba583" stroke="#225437" stroke-width="1"/>
<rect x="1399" y="177" width="1" height="54" fill="#737375"/>
<rect x="1397.5" y="182.5" width="4" height="26" fill="#6ba583" stroke="#225437" stroke-width="1"/>
<rect x="1407" y="112" width="1" height="73" fill="#737375"/>
<rect x="1405.5" y="137.5" width="4" height="45" fill="#6ba583" stroke="#225437" stroke-width="1"/>
<rect x="1414" y="118" width="1" height="20" fill="#737375"/>
<rect x="1412.5" y="124.5" width="4" height="12" fill="#6ba583" stroke="#225437" stroke-width="1"/>
<rect x="1422" y="112" width="1" height="17" fill="#737375"/>
<rect x="1420.5" y="114.5" width="4" height="11" fill="#6ba583" stroke="#225437" stroke-width="1"/>
</g>
<g clip-path="url(#cci)"><polyline points="3.0,725.7 6.0,725.3 13.9,711.2 20.8,713.8 29.4,727.1 36.7,729.2 43.7,725.3 51.6,723.3 59.6,722.1 66.5,726.3 75.0,714.7 83.0,695.5 90.3,693.3 97.3,700.8 106.2,706.8 120.7,715.3 129.0,710.8 136.0,695.3 143.9,698.3 152.9,702.8 160.8,703.4 166.8,701.8 174.7,701.2 181.7,705.4 198.5,703.2 212.4,701.2 219.4,701.2 227.3,705.4 236.3,705.4 246.2,709.4 258.1,713.4 265.0,714.1 274.0,717.1 285.9,718.1 294.8,716.7 300.0,710.5 305.0,700.3 312.3,703.8 319.9,711.2 327.8,705.8 334.7,712.4 342.7,713.2 350.0,708.2 358.0,710.4 365.5,708.2 373.1,701.4 380.4,704.4 388.3,708.2 396.3,710.8 403.6,717.7 412.2,720.3 419.1,715.7 427.1,714.7 435.0,710.2 442.0,712.2 449.9,712.2 456.8,707.2 463.8,706.2 472.7,711.4 480.7,730.0 488.2,731.6 495.6,724.1 503.5,721.7 510.8,718.1 518.4,722.1 525.9,712.4 533.9,716.1 541.2,715.3 549.2,720.1 557.1,723.7 572.0,717.7 579.9,730.6 587.9,755.8 600.0,736.4 603.0,731.2 611.5,731.2 618.9,727.1 625.8,724.9 633.8,726.3 640.7,732.6 648.6,728.6 655.6,726.1 663.5,723.7 671.5,720.3 679.0,719.1 687.0,712.8 694.3,709.4 702.2,707.4 710.2,707.2 718.1,711.4 725.1,714.1 733.0,713.4 741.0,703.4 747.9,700.3 755.8,698.3 770.7,688.5 778.7,696.9 786.6,704.2 794.6,705.8 802.5,710.2 810.0,713.8 817.4,716.1 824.7,719.3 832.7,713.8 840.2,721.7 848.2,733.2 855.1,730.6 863.1,728.2 870.0,729.6 877.9,730.2 885.9,729.2 893.8,733.2 900.0,732.3 908.9,725.7 916.9,722.1 923.8,724.3 931.8,721.3 939.7,716.3 947.3,728.2 955.2,734.2 963.1,743.5 970.5,742.5 978.4,740.2 986.4,735.2 992.9,732.6 1000.3,734.6 1007.6,736.6 1015.1,728.6 1023.1,724.7 1030.6,720.3 1039.0,720.3 1046.5,715.7 1053.9,717.3 1062.8,717.7 1070.3,716.1 1076.7,709.4 1084.6,708.8 1092.2,712.2 1100.1,716.7 1107.5,715.1 1115.4,711.4 1123.4,707.8 1130.7,705.8 1138.8,694.9 1146.2,695.3 1153.7,696.5 1161.1,697.5 1169.0,700.3 1176.9,701.4 1184.3,705.2 1191.8,706.2 1200.0,704.2 1207.0,705.0 1214.9,709.8 1222.8,710.8 1229.8,709.8 1237.7,707.8 1245.7,707.4 1252.6,707.2 1260.6,706.2 1268.5,711.4 1276.4,718.7 1283.8,717.1 1291.7,702.2 1298.9,710.8 1306.6,729.2 1314.2,732.2 1322.1,729.2 1330.0,723.3 1337.0,732.6 1344.9,738.0 1352.9,731.2 1359.8,727.1 1367.8,733.2 1375.7,732.0 1382.6,730.2 1390.6,726.1 1398.5,725.3 1405.9,711.8 1413.4,706.8 1421.4,704.2" fill="none" stroke="#2962ff" stroke-width="1.2" stroke-linejoin="round" /></g>
<g clip-path="url(#atr)"><polyline points="3.0,772.5 7.0,772.5 20.8,767.9 41.7,772.5 48.6,773.9 76.4,775.8 83.0,768.5 97.3,769.9 106.2,771.5 113.2,771.9 121.1,774.3 129.0,775.8 136.0,765.3 142.9,765.3 151.9,766.9 158.8,767.5 166.8,769.3 174.7,771.5 188.6,771.3 197.5,771.9 204.5,774.3 212.4,773.3 220.4,774.5 228.3,773.3 236.3,772.5 243.2,770.3 251.1,771.9 258.1,773.5 266.0,774.9 274.0,774.5 281.9,776.4 289.9,774.9 300.0,770.5 305.0,766.5 311.9,764.5 319.9,766.3 334.7,763.9 347.6,766.9 357.6,771.9 366.5,774.9 381.4,772.3 388.3,773.9 396.3,778.8 404.2,774.3 419.1,777.2 427.1,772.3 437.0,772.5 449.9,775.4 457.8,774.9 472.7,778.8 487.6,776.2 510.4,782.8 525.3,780.8 534.3,782.2 542.2,782.2 550.1,784.2 564.0,783.2 579.9,774.3 587.9,772.5 600.0,775.3 609.9,777.4 617.9,780.4 625.8,782.8 633.8,780.2 641.7,780.8 649.6,782.4 656.6,782.8 664.5,785.2 671.5,784.2 679.4,786.8 687.4,785.4 695.3,787.2 710.2,791.7 727.1,792.3 742.9,793.7 756.8,793.3 770.7,790.7 786.6,790.7 794.6,793.1 802.5,791.3 816.4,796.7 824.3,796.7 832.3,794.1 840.2,788.4 848.2,786.8 856.1,788.4 871.0,792.1 877.9,792.3 885.9,794.7 893.8,792.3 900.0,794.2 908.9,792.3 916.9,794.1 923.8,793.3 931.8,794.7 939.7,795.3 946.7,787.2 954.6,787.4 962.5,783.8 970.5,785.2 985.4,786.4 992.9,788.4 1000.3,786.4 1008.2,785.2 1016.1,781.8 1024.1,784.4 1031.0,784.8 1039.0,783.8 1054.9,783.4 1069.7,783.8 1076.7,781.8 1084.6,783.8 1092.6,784.8 1100.1,786.8 1107.5,786.4 1115.4,789.1 1123.3,790.7 1130.3,790.1 1138.2,787.8 1146.2,789.1 1153.1,789.7 1162.1,792.7 1170.0,794.3 1183.9,795.1 1191.8,794.3 1200.0,796.0 1207.0,797.3 1214.9,796.7 1229.8,796.7 1237.7,793.1 1245.7,792.7 1252.6,794.7 1260.6,796.3 1268.5,794.1 1276.4,795.3 1283.8,796.7 1291.7,792.3 1298.9,792.3 1306.6,790.1 1314.2,791.3 1330.0,794.7 1337.0,794.7 1344.9,795.7 1352.9,796.1 1359.8,798.1 1367.8,797.1 1375.7,797.3 1382.6,799.1 1390.6,798.1 1398.5,797.3 1405.9,795.3 1413.4,798.1 1421.8,800.7" fill="none" stroke="#b22833" stroke-width="1.2" stroke-linejoin="round" /></g>
<rect x="1442" y="3" width="1" height="829" fill="#4d4e52"/>
<rect x="3" y="804" width="1505" height="1" fill="#4d4e52"/>
<rect x="6" y="10" width="287" height="19" fill="#ffffff" fill-opacity="0.6"/>
<rect x="328" y="10" width="355" height="19" fill="#ffffff" fill-opacity="0.6"/>
<g>
<clipPath id="usc"><circle cx="24.1" cy="15.9" r="5.7"/></clipPath>
<g clip-path="url(#usc)"><rect x="18" y="9" width="13" height="14" fill="#fff"/>
<rect x="18" y="10.2" width="13" height="1.4" fill="#f23645"/>
<rect x="18" y="13.0" width="13" height="1.4" fill="#f23645"/>
<rect x="18" y="15.8" width="13" height="1.4" fill="#f23645"/>
<rect x="18" y="18.6" width="13" height="1.4" fill="#f23645"/>
<rect x="18" y="9" width="6.5" height="7" fill="#2b7de9"/></g>
<circle cx="18" cy="21.9" r="7.1" fill="#fff"/>
<clipPath id="ukc"><circle cx="18" cy="21.9" r="6.1"/></clipPath>
<g clip-path="url(#ukc)"><rect x="11" y="15" width="14" height="14" fill="#2a4fb0"/>
<line x1="11" y1="15" x2="25" y2="29" stroke="#fff" stroke-width="2.4"/><line x1="25" y1="15" x2="11" y2="29" stroke="#fff" stroke-width="2.4"/>
<line x1="11" y1="15" x2="25" y2="29" stroke="#f0606c" stroke-width="1"/><line x1="25" y1="15" x2="11" y2="29" stroke="#f0606c" stroke-width="1"/>
<rect x="16.3" y="15" width="3.4" height="14" fill="#fff"/><rect x="11" y="20.2" width="14" height="3.4" fill="#fff"/>
<rect x="16.9" y="15" width="2.2" height="14" fill="#f56f7a"/><rect x="11" y="20.8" width="14" height="2.2" fill="#f56f7a"/></g>
</g>
<text x="34.1" y="24.4" font-size="15" fill="#5a5d66" font-weight="normal" text-anchor="start" textLength="253" lengthAdjust="spacing">British Pound / U.S. Dollar · 1D · ICE</text>
<path d="M300 12.9 L313 12.9 L309.5 18.6 L313 24.4 L300 24.4 Z" fill="#f44b4b"/>
<circle cx="340" cy="18.7" r="8.3" fill="#089981" fill-opacity="0.15"/><circle cx="340" cy="18.7" r="4.3" fill="#089981"/>
<text x="364.9" y="24.9" font-size="12" fill="#555a64" font-weight="normal" text-anchor="start" >O</text><text x="376.1" y="24.9" font-size="12" fill="#3a7a55" font-weight="normal" text-anchor="start" >1.2759</text><text x="420.3" y="24.9" font-size="12" fill="#555a64" font-weight="normal" text-anchor="start" >H</text><text x="429.1" y="24.9" font-size="12" fill="#3a7a55" font-weight="normal" text-anchor="start" >1.2777</text><text x="474.2" y="24.9" font-size="12" fill="#555a64" font-weight="normal" text-anchor="start" >L</text><text x="481.9" y="24.9" font-size="12" fill="#3a7a55" font-weight="normal" text-anchor="start" >1.2755</text><text x="527.0" y="24.9" font-size="12" fill="#555a64" font-weight="normal" text-anchor="start" >C</text><text x="535.9" y="24.9" font-size="12" fill="#3a7a55" font-weight="normal" text-anchor="start" >1.2774</text><text x="580.9" y="24.9" font-size="12" fill="#3a7a55" font-weight="normal" text-anchor="start" >+0.0014</text><text x="630.5" y="24.9" font-size="12" fill="#3a7a55" font-weight="normal" text-anchor="start" >(+0.11%)</text>
<rect x="5" y="34" width="203" height="42" fill="#ffffff" fill-opacity="0.6"/>
<rect x="11.5" y="35.5" width="79" height="39" rx="6" fill="#fff" stroke="#f23645" stroke-width="1"/>
<rect x="121.5" y="35.5" width="79" height="39" rx="6" fill="#fff" stroke="#2962ff" stroke-width="1"/>
<text x="51.4" y="52.0" font-size="14" fill="#f23645" font-weight="bold" text-anchor="middle" letter-spacing="0.2">1.2773</text>
<text x="50.5" y="68.0" font-size="10.5" fill="#f23645" font-weight="normal" text-anchor="middle" >SELL</text>
<text x="161.5" y="52.0" font-size="14" fill="#2962ff" font-weight="bold" text-anchor="middle" letter-spacing="0.2">1.2774</text>
<text x="160.9" y="68.0" font-size="10.5" fill="#2962ff" font-weight="normal" text-anchor="middle" >BUY</text>
<text x="106.0" y="58.8" font-size="10" fill="#555a64" font-weight="normal" text-anchor="middle" >1</text>
<rect x="6" y="82" width="132" height="19" fill="#fff" fill-opacity="0.6"/>
<rect x="6" y="106" width="132" height="19" fill="#fff" fill-opacity="0.6"/>
<rect x="6" y="130" width="139" height="19" fill="#fff" fill-opacity="0.6"/>
<text x="11.5" y="95.7" font-size="12" fill="#4e5058" font-weight="normal" text-anchor="start" >SMA 20 close</text><text x="94.6" y="95.7" font-size="12" fill="#f23645" font-weight="normal" text-anchor="start" >1.2701</text>
<text x="11.5" y="119.6" font-size="12" fill="#4e5058" font-weight="normal" text-anchor="start" >SMA 50 close</text><text x="94.6" y="119.6" font-size="12" fill="#2962ff" font-weight="normal" text-anchor="start" >1.2672</text>
<text x="11.5" y="143.4" font-size="12" fill="#4e5058" font-weight="normal" text-anchor="start" >SMA 200 close</text><text x="101.4" y="143.4" font-size="12" fill="#131722" font-weight="normal" text-anchor="start" >1.2576</text>
<rect x="12.5" y="153.5" width="28" height="20" rx="3" fill="#fff" stroke="#d1d4dc" stroke-width="1"/>
<path d="M22.2 165.6 L26.4 161.4 L30.6 165.6" fill="none" stroke="#131722" stroke-width="1.5"/>
<rect x="7" y="692" width="160" height="18" fill="#fff" fill-opacity="0.6"/>
<text x="11.6" y="706.2" font-size="12" fill="#4e5058" font-weight="normal" text-anchor="start" >CCI 20 hlc3 SMA 5</text><text x="122.0" y="706.2" font-size="12" fill="#2962ff" font-weight="normal" text-anchor="start" >116.99</text>
<rect x="7" y="768" width="125" height="18" fill="#fff" fill-opacity="0.6"/>
<g fill="#787b86" fill-opacity="0.85"><rect x="12.3" y="775" width="14.7" height="8"/><rect x="20.9" y="775" width="6.1" height="15"/><path d="M36 775 L43 775 L39 790 L32 790 Z"/></g>
<text x="11.6" y="782.7" font-size="12" fill="#4e5058" font-weight="normal" text-anchor="start" >ATR 14 RMA</text><text x="87.0" y="782.7" font-size="12" fill="#b22833" font-weight="normal" text-anchor="start" >0.0061</text>
<g clip-path="url(#pax)">
<text x="1450.4" y="685.9" font-size="12" fill="#4a4d57" font-weight="normal" text-anchor="start" >1.2000</text>
<text x="1450.4" y="649.9" font-size="12" fill="#4a4d57" font-weight="normal" text-anchor="start" >1.2050</text>
<text x="1450.4" y="612.9" font-size="12" fill="#4a4d57" font-weight="normal" text-anchor="start" >1.2100</text>
<text x="1450.4" y="575.9" font-size="12" fill="#4a4d57" font-weight="normal" text-anchor="start" >1.2150</text>
<text x="1450.4" y="538.9" font-size="12" fill="#4a4d57" font-weight="normal" text-anchor="start" >1.2200</text>
<text x="1450.4" y="502.9" font-size="12" fill="#4a4d57" font-weight="normal" text-anchor="start" >1.2250</text>
<text x="1450.4" y="465.9" font-size="12" fill="#4a4d57" font-weight="normal" text-anchor="start" >1.2300</text>
<text x="1450.4" y="428.9" font-size="12" fill="#4a4d57" font-weight="normal" text-anchor="start" >1.2350</text>
<text x="1450.4" y="392.9" font-size="12" fill="#4a4d57" font-weight="normal" text-anchor="start" >1.2400</text>
<text x="1450.4" y="355.9" font-size="12" fill="#4a4d57" font-weight="normal" text-anchor="start" >1.2450</text>
<text x="1450.4" y="318.9" font-size="12" fill="#4a4d57" font-weight="normal" text-anchor="start" >1.2500</text>
<text x="1450.4" y="281.9" font-size="12" fill="#4a4d57" font-weight="normal" text-anchor="start" >1.2550</text>
<text x="1450.4" y="245.9" font-size="12" fill="#4a4d57" font-weight="normal" text-anchor="start" >1.2600</text>
<text x="1450.4" y="208.9" font-size="12" fill="#4a4d57" font-weight="normal" text-anchor="start" >1.2650</text>
<text x="1450.4" y="171.9" font-size="12" fill="#4a4d57" font-weight="normal" text-anchor="start" >1.2700</text>
<text x="1450.4" y="135.9" font-size="12" fill="#4a4d57" font-weight="normal" text-anchor="start" >1.2750</text>
<text x="1450.4" y="98.9" font-size="12" fill="#4a4d57" font-weight="normal" text-anchor="start" >1.2800</text>
<text x="1450.4" y="61.9" font-size="12" fill="#4a4d57" font-weight="normal" text-anchor="start" >1.2850</text>
</g>
<g clip-path="url(#paxcci)"><text x="1450.4" y="722.7" font-size="12" fill="#4a4d57" font-weight="normal" text-anchor="start" >0.00</text></g>
<g clip-path="url(#paxatr)"><text x="1450.4" y="768.0" font-size="12" fill="#4a4d57" font-weight="normal" text-anchor="start" >0.0100</text></g>
<path d="M1442 40.8 h47 a3 3 0 0 1 3 3 v10.5 a3 3 0 0 1 -3 3 h-47 z" fill="#000"/>
<text x="1450.6" y="53.8" font-size="12" fill="#fff" font-weight="bold" text-anchor="start" >1.2863</text>
<path d="M1442 130.1 h47 a3 3 0 0 1 3 3 v10.5 a3 3 0 0 1 -3 3 h-47 z" fill="#000"/>
<text x="1450.6" y="143.1" font-size="12" fill="#fff" font-weight="bold" text-anchor="start" >1.2742</text>
<path d="M1442 185.1 h47 a3 3 0 0 1 3 3 v10.5 a3 3 0 0 1 -3 3 h-47 z" fill="#000"/>
<text x="1450.6" y="198.1" font-size="12" fill="#fff" font-weight="bold" text-anchor="start" >1.2667</text>
<path d="M1442 273.0 h47 a3 3 0 0 1 3 3 v10.5 a3 3 0 0 1 -3 3 h-47 z" fill="#000"/>
<text x="1450.6" y="286.0" font-size="12" fill="#fff" font-weight="bold" text-anchor="start" >1.2547</text>
<path d="M1442 394.6 h47 a3 3 0 0 1 3 3 v10.5 a3 3 0 0 1 -3 3 h-47 z" fill="#000"/>
<text x="1450.6" y="407.6" font-size="12" fill="#fff" font-weight="bold" text-anchor="start" >1.2381</text>
<path d="M1442 454.1 h47 a3 3 0 0 1 3 3 v10.5 a3 3 0 0 1 -3 3 h-47 z" fill="#000"/>
<text x="1450.6" y="467.1" font-size="12" fill="#fff" font-weight="bold" text-anchor="start" >1.2300</text>
<path d="M1442 645.3 h47 a3 3 0 0 1 3 3 v10.5 a3 3 0 0 1 -3 3 h-47 z" fill="#000"/>
<text x="1450.6" y="658.3" font-size="12" fill="#fff" font-weight="bold" text-anchor="start" >1.2039</text>
<path d="M1442 106 h58 a3 3 0 0 1 3 3 v10.8 a3 3 0 0 1 -3 3 h-58 z" fill="#6ba583"/>
<text x="1450.6" y="118.7" font-size="12" fill="#eef5f0" font-weight="bold" text-anchor="start" >14:14:34</text>
<rect x="1446.5" y="7.5" width="57" height="25" rx="5" fill="#fff" stroke="#e0e3eb" stroke-width="1"/>
<text x="1450.3" y="23.9" font-size="12.5" fill="#131722" font-weight="normal" text-anchor="start" textLength="20.4" lengthAdjust="spacingAndGlyphs">USD</text>
<path d="M1494 19.2 L1496.5 21.7 L1499 19.2" fill="none" stroke="#131722" stroke-width="1.3"/>
<path d="M1427.5 662.2 A10 10 0 1 0 1432.3 669" fill="none" stroke="#9c27b0" stroke-width="1.8"/>
<circle cx="1429.5" cy="664.5" r="2.6" fill="#f23645"/>
<path d="M1424.8 666.8 L1418.9 671.8 L1426.5 671.4 L1419.6 676.6" fill="none" stroke="#9c27b0" stroke-width="1.8" stroke-linejoin="miter"/>
<path d="M1468.9 818.3 L1472.3 812.5 L1479 812.5 L1482.3 818.3 L1479 824.1 L1472.3 824.1 Z" fill="none" stroke="#131722" stroke-width="1.1"/>
<circle cx="1475.6" cy="818.3" r="1.8" fill="none" stroke="#131722" stroke-width="1.1"/>
<text x="67.4" y="821.7" font-size="12" fill="#4a4d57" font-weight="normal" text-anchor="middle" >Nov</text>
<text x="152.4" y="821.7" font-size="12" fill="#4a4d57" font-weight="normal" text-anchor="middle" >16</text>
<text x="236.4" y="821.7" font-size="12" fill="#4a4d57" font-weight="normal" text-anchor="middle" >Dec</text>
<text x="396.3" y="821.7" font-size="12" fill="#4a4d57" font-weight="bold" text-anchor="middle" >2024</text>
<text x="481.2" y="821.7" font-size="12" fill="#4a4d57" font-weight="normal" text-anchor="middle" >16</text>
<text x="572.3" y="821.7" font-size="12" fill="#4a4d57" font-weight="normal" text-anchor="middle" >Feb</text>
<text x="733.3" y="821.7" font-size="12" fill="#4a4d57" font-weight="normal" text-anchor="middle" >Mar</text>
<text x="894.5" y="821.7" font-size="12" fill="#4a4d57" font-weight="normal" text-anchor="middle" >Apr</text>
<text x="978.3" y="821.7" font-size="12" fill="#4a4d57" font-weight="normal" text-anchor="middle" >16</text>
<text x="1062.4" y="821.7" font-size="12" fill="#4a4d57" font-weight="normal" text-anchor="middle" >May</text>
<text x="1146.3" y="821.7" font-size="12" fill="#4a4d57" font-weight="normal" text-anchor="middle" >16</text>
<text x="1238.2" y="821.7" font-size="12" fill="#4a4d57" font-weight="normal" text-anchor="middle" >Jun</text>
<text x="1391.4" y="821.7" font-size="12" fill="#4a4d57" font-weight="normal" text-anchor="middle" >Jul</text>
</svg>
</body></html>
